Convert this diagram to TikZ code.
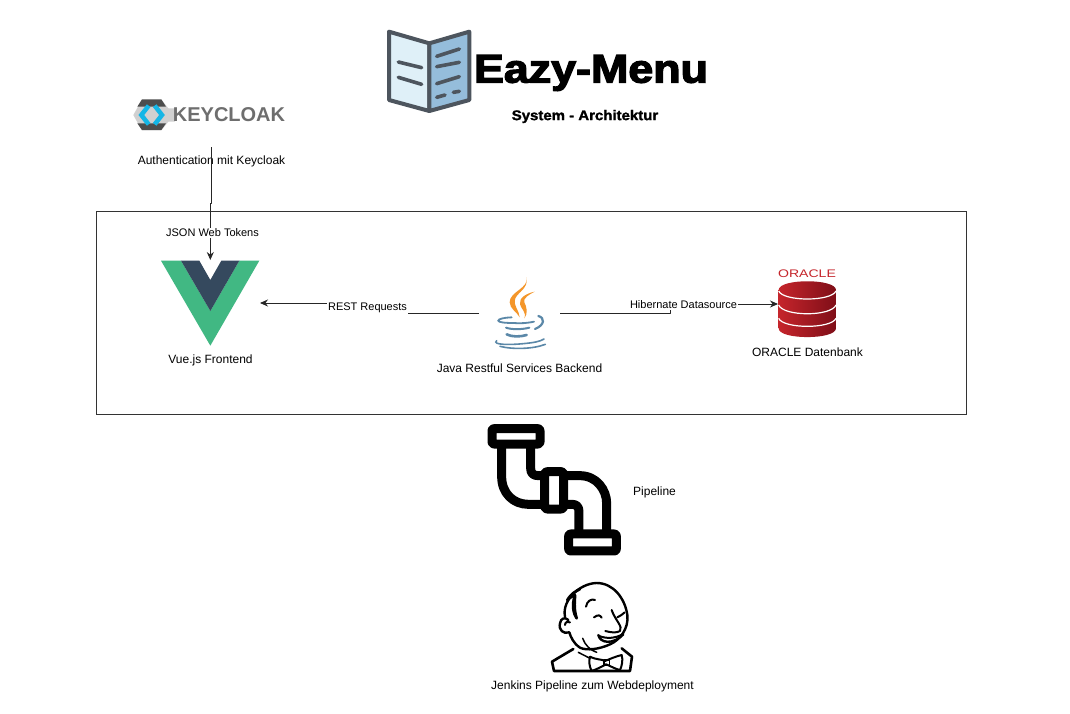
\documentclass[tikz,border=0pt]{standalone}
\usepackage{fontspec}
\setmainfont{Liberation Sans}
\newfontfamily\titlefont[FakeBold=3]{Liberation Sans Bold}
\newfontfamily\subfont[FakeBold=1.5]{Liberation Sans Bold}
\usetikzlibrary{arrows.meta}
\definecolor{vuegreen}{HTML}{41B883}
\definecolor{vuedark}{HTML}{35495E}
\definecolor{bookline}{HTML}{4D555E}
\definecolor{bookleft}{HTML}{DFF0F8}
\definecolor{bookright}{HTML}{95BDDB}
\definecolor{javaorange}{HTML}{F4962A}
\definecolor{javablue}{HTML}{5B88A8}
\definecolor{oraclered}{HTML}{C5252B}
\definecolor{oracledark}{HTML}{7F0E18}
\definecolor{kcdark}{HTML}{4D4D4D}
\definecolor{kclight}{HTML}{D0D0D0}
\definecolor{kcblue}{HTML}{14B6E6}
\definecolor{kctext}{HTML}{6E6E6E}
\tikzset{
 lbl/.style={font=\fontsize{12}{14}\selectfont,inner sep=0pt,text=black},
 edgelbl/.style={font=\fontsize{11}{13}\selectfont,inner sep=1pt,fill=white,text=black},
 conn/.style={line width=.9pt,draw=black!85,line join=round},
 tip/.style={-{Stealth[length=8pt,width=7pt]}},
 bookstroke/.style={draw=bookline,line width=4pt,line cap=round,line join=round},
 pipe/.style={draw=black,line width=9pt,line join=round,line cap=butt},
 jen/.style={draw=black,line width=2pt,line cap=round,line join=round},
 cupline/.style={draw=javablue,line cap=round},
}
\begin{document}
\begin{tikzpicture}[x=1pt,y=-1pt]
\useasboundingbox (0,0) rectangle (1070,713);
\fill[white] (0,0) rectangle (1070,713);
% book
\begin{scope}[shift={(370,15)},x=.3333pt,y=-.3333pt]
\filldraw[fill=bookleft,bookstroke] (57,50) -- (178,85) -- (178,288) -- (57,255) -- cycle;
\filldraw[fill=bookright,bookstroke] (298,50) -- (178,85) -- (178,288) -- (298,255) -- cycle;
\draw[bookstroke,line width=3.6pt] (85,141) -- (155,158);
\draw[bookstroke,line width=3.6pt] (85,187) -- (155,208);
\draw[bookstroke,line width=3.6pt] (200,124) -- (268,102);
\draw[bookstroke,line width=3.6pt] (200,155) -- (268,142);
\draw[bookstroke,line width=3.6pt] (200,206) -- (268,185);
\draw[bookstroke,line width=3.6pt] (200,247) -- (225,240);
\draw[bookstroke,line width=3.6pt] (250,232) -- (268,229);
\end{scope}
\node[inner sep=0pt,text=black,font=\titlefont\fontsize{40}{44}\selectfont,xscale=1.12] (title) at (591,73) {Eazy-Menu};
\node[inner sep=0pt,text=black,font=\subfont\fontsize{14}{16}\selectfont,xscale=1.07] (subtitle) at (585,116.5) {System - Architektur};
% keycloak
\begin{scope}[shift={(120,85)},x=.3333pt,y=-.3333pt]
\fill[kclight] (40,90) -- (65,45) -- (125,45) -- (145,70) -- (165,70) -- (165,110) -- (145,110) -- (125,135) -- (65,135) -- cycle;
\fill[kcdark] (52,65) -- (66,43) -- (124,43) -- (138,65) -- cycle;
\fill[kcdark] (52,115) -- (66,135) -- (124,135) -- (138,115) -- cycle;
\draw[kcblue,line width=4.5pt,line join=miter] (86,62) -- (64,90) -- (86,118);
\draw[kcblue,line width=4.5pt,line join=miter] (104,62) -- (126,90) -- (104,118);
\end{scope}
\node[inner sep=0pt,text=kctext,font=\bfseries\fontsize{20}{22}\selectfont] (kclogo) at (229,114.5) {KEYCLOAK};
% box
\node[draw=black!80,line width=.8pt,minimum width=870pt,minimum height=203pt,inner sep=0pt] (box) at (531.5,313) {};
% vue
\begin{scope}[shift={(150,250)},x=.3333pt,y=-.3333pt]
\fill[vuegreen] (33,32) -- (93,32) -- (181,183) -- (268,32) -- (328,32) -- (181,287) -- cycle;
\fill[vuedark] (93,32) -- (148,32) -- (181,90) -- (214,32) -- (268,32) -- (181,183) -- cycle;
\end{scope}
% java
\begin{scope}[shift={(470,265)},x=.3333pt,y=-.3333pt]
\fill[javaorange] (170,36) .. controls (178,70) and (118,80) .. (119,112) .. controls (120,132) and (140,140) .. (149,157) .. controls (148,135) and (128,122) .. (136,100) .. controls (145,80) and (175,72) .. (170,36) -- cycle;
\fill[javaorange] (194,80) .. controls (170,85) and (146,98) .. (150,118) .. controls (153,132) and (170,140) .. (163,160) .. controls (175,145) and (170,125) .. (163,112) .. controls (158,100) and (178,88) .. (194,80) -- cycle;
\draw[cupline,line width=1.8pt] (125,157) .. controls (100,158) and (85,162) .. (85,167) .. controls (85,172) and (105,174) .. (130,174);
\draw[cupline,line width=2.2pt] (205,153) .. controls (225,158) and (225,180) .. (195,192);
\draw[cupline,line width=1.8pt] (130,174) .. controls (150,176) and (175,174) .. (192,170);
\draw[cupline,line width=2pt] (108,188) .. controls (125,194) and (155,194) .. (178,188);
\draw[cupline,line width=2.6pt] (110,208) .. controls (125,216) and (150,216) .. (170,210);
\draw[cupline,line width=1.6pt] (80,227) .. controls (65,240) and (120,240) .. (160,236) .. controls (190,233) and (210,230) .. (222,222);
\draw[cupline,line width=1.6pt] (90,244) .. controls (130,254) and (190,252) .. (226,238);
\end{scope}
% oracle
\node[inner sep=0pt,text=oraclered,font=\fontsize{11}{13}\selectfont,xscale=1.28] (oraclelogo) at (807,274) {ORACLE};
\begin{scope}[shift={(620,255)},x=.3333pt,y=-.3333pt]
\shade[left color=oraclered,right color=oracledark] (476,105) .. controls (476,70) and (648,70) .. (648,105) -- (648,220) .. controls (648,255) and (476,255) .. (476,220) -- cycle;
\draw[white,line width=1.2pt] (476,108) .. controls (490,140) and (634,140) .. (648,108);
\draw[white,line width=1.2pt] (476,150) .. controls (490,185) and (634,185) .. (648,150);
\draw[white,line width=1.2pt] (476,190) .. controls (490,222) and (634,222) .. (648,190);
\end{scope}
% pipeline
\begin{scope}[shift={(475,415)},x=.3333pt,y=-.3333pt]
\draw[pipe,rounded corners=2pt] (51,41) rectangle (195,87);
\draw[pipe,rounded corners=2pt] (281,357) rectangle (424,408);
\draw[pipe,rounded corners=2.5pt] (209,170) rectangle (266,282);
\draw[pipe] (80,95) -- (80,185) .. controls (80,235) and (115,268) .. (160,268) -- (205,268);
\draw[pipe] (167,95) -- (167,160) .. controls (167,175) and (175,182) .. (190,182) -- (205,182);
\draw[pipe] (270,182) -- (315,182) .. controls (365,182) and (395,225) .. (395,265) -- (395,350);
\draw[pipe] (270,268) -- (292,268) .. controls (305,268) and (312,276) .. (312,290) -- (312,350);
\end{scope}
% jenkins
\begin{scope}[shift={(530,575)},x=.3333pt,y=-.3333pt]
\draw[jen,line width=2.4pt] (105,125) .. controls (95,75) and (150,25) .. (200,24) .. controls (250,24) and (285,70) .. (292,120) .. controls (297,160) and (270,195) .. (240,208) .. controls (210,222) and (170,228) .. (150,218) .. controls (130,205) and (122,185) .. (118,172) .. controls (100,178) and (85,165) .. (90,145) .. controls (92,130) and (105,125) .. (115,135);
\draw[jen,line width=2.8pt] (112,75) .. controls (125,55) and (135,50) .. (150,42);
\draw[jen,line width=2.8pt] (135,60) .. controls (125,90) and (130,115) .. (140,130) .. controls (130,100) and (135,75) .. (135,60);
\draw[jen] (112,75) -- (135,60);
\draw[jen] (105,150) .. controls (105,140) and (115,138) .. (120,142);
\draw[jen] (168,95) .. controls (170,78) and (185,70) .. (195,75);
\draw[jen] (192,127) .. controls (205,118) and (210,120) .. (215,128);
\draw[jen] (262,127) .. controls (272,122) and (278,118) .. (284,112);
\draw[jen] (245,105) .. controls (255,135) and (280,155) .. (270,168) .. controls (260,175) and (240,172) .. (226,168);
\draw[jen,line width=2.4pt] (205,180) .. controls (210,205) and (250,210) .. (280,178);
\draw[jen] (208,183) .. controls (230,192) and (255,190) .. (278,178);
\draw[jen,line width=1.5pt] (158,190) .. controls (165,210) and (180,225) .. (200,232);
\draw[jen,line width=2.6pt] (130,222) -- (66,260) -- (72,288) -- (300,288) -- (306,245) -- (275,220);
\draw[jen,line width=1.5pt] (145,232) -- (180,250);
\draw[jen] (180,245) .. controls (200,255) and (215,252) .. (225,258) .. controls (240,252) and (255,245) .. (275,240) .. controls (280,255) and (275,275) .. (270,285) .. controls (255,282) and (240,272) .. (228,268) .. controls (215,275) and (195,285) .. (185,288) .. controls (178,275) and (176,258) .. (180,245);
\draw[jen,line width=1.5pt] (222,255) -- (222,272) -- (238,272) -- (238,255) -- cycle;
\end{scope}
% anchors
\coordinate (kcstart) at (211.3,147);
\coordinate (kcbend) at (211.3,203);
\coordinate (kcbendb) at (210.3,203);
\coordinate (kcend) at (210.3,260);
\coordinate (reststart) at (479,313);
\coordinate (restbend) at (368,313);
\coordinate (restbendb) at (368,303);
\coordinate (restend) at (260,303);
\coordinate (hibstart) at (560,313);
\coordinate (hibbend) at (670,313);
\coordinate (hibbendb) at (670,304);
\coordinate (hibend) at (778,304);
% label below the Keycloak connector
\node[lbl] (auth) at (211.5,161.5) {Authentication mit Keycloak};
% connectors
\draw[conn,tip] (kcstart) -- (kcbend) -- (kcbendb) -- (kcend);
\draw[conn,tip] (reststart) -- (restbend) -- (restbendb) -- (restend);
\draw[conn,tip] (hibstart) -- (hibbend) -- (hibbendb) -- (hibend);
% labels
\node[edgelbl] (jsonl) at (212.5,233) {JSON Web Tokens};
\node[edgelbl] (restl) at (367.5,308) {REST Requests};
\node[edgelbl] (hibl) at (683.5,305) {Hibernate Datasource};
\node[lbl] (vuel) at (210.5,360.5) {Vue.js Frontend};
\node[lbl] (javal) at (519.5,368.5) {Java Restful Services Backend};
\node[lbl] (oral) at (807.5,352.5) {ORACLE Datenbank};
\node[lbl] (pipel) at (654.5,492.5) {Pipeline};
\node[lbl] (jenl) at (592.5,686.5) {Jenkins Pipeline zum Webdeployment};
\end{tikzpicture}
\end{document}
